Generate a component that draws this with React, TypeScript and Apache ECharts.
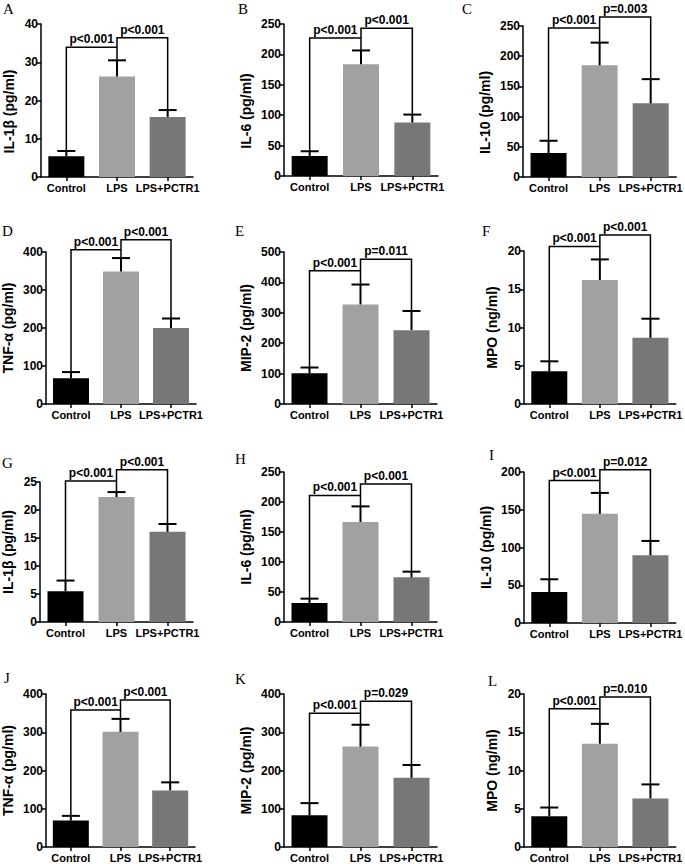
import React, { useEffect, useRef } from "react";
import * as echarts from "echarts";

const categories = ["Control", "LPS", "LPS+PCTR1"];
const panelLetters = ["A", "B", "C", "D", "E", "F", "G", "H", "I", "J", "K", "L"];
const yNames = [
  "IL-1β (pg/ml)", "IL-6 (pg/ml)", "IL-10 (pg/ml)",
  "TNF-α (pg/ml)", "MIP-2 (pg/ml)", "MPO (ng/ml)",
  "IL-1β (pg/ml)", "IL-6 (pg/ml)", "IL-10 (pg/ml)",
  "TNF-α (pg/ml)", "MIP-2 (pg/ml)", "MPO (ng/ml)",
];
const yMax = [40, 250, 250, 400, 500, 20, 25, 250, 200, 400, 400, 20];
const yInterval = [10, 50, 50, 100, 100, 5, 5, 50, 50, 100, 100, 5];

const means = [
  [5.4, 26.3, 15.7],
  [33, 184, 88],
  [39.6, 185, 122],
  [68, 349, 200],
  [101.5, 327.5, 243],
  [4.28, 16.2, 8.65],
  [5.5, 22.3, 16.1],
  [31.7, 166.7, 74.4],
  [40.9, 144.6, 89.7],
  [69, 301, 148],
  [83, 262.6, 181],
  [4.03, 13.5, 6.35],
];
const sds = [
  [1.4, 4.2, 1.8],
  [7.7, 22.5, 13],
  [20.4, 37.5, 40],
  [16, 35, 25],
  [18.5, 65.5, 63],
  [1.3, 2.7, 2.5],
  [1.9, 0.9, 1.4],
  [7.2, 26, 9.5],
  [17, 27.7, 19],
  [12.4, 34, 21],
  [31.7, 57, 33.4],
  [1.13, 2.6, 1.83],
];
// bracket heights (left: Control vs LPS, right: LPS vs LPS+PCTR1)
const bracketLeft = [33.9, 227, 246.7, 406, 438, 20.6, 25.2, 211, 188.6, 358, 350, 18.07];
const bracketRight = [36.4, 243, 265, 432, 476, 22.1, 27.2, 230, 203, 384, 381, 19.6];
const pLeft = Array(12).fill("p<0.001");
const pRight = [
  "p<0.001", "p<0.001", "p=0.003",
  "p<0.001", "p=0.011", "p<0.001",
  "p<0.001", "p<0.001", "p=0.012",
  "p<0.001", "p=0.029", "p=0.010",
];

// layout (pixels): left, top, width, height
const gridBoxes = [
  [41, 24, 152, 153], [284, 24, 154, 152], [523, 26, 157, 151],
  [43, 252, 153, 152], [284, 252, 153, 152], [524, 251, 154, 153],
  [40, 482, 153, 140], [284, 472, 153, 150], [524, 472, 154, 151],
  [42, 694, 153, 153], [284, 694, 153, 153], [524, 694, 154, 153],
];
const letterPos = [
  [3, 1], [238, 1], [462, 1],
  [2, 223], [235, 223], [482, 223],
  [2, 455], [235, 451], [489, 447],
  [4, 670], [235, 671], [488, 673],
];
const barColors = ["#000000", "#a1a1a1", "#777777"];
const SANS = "'Liberation Sans', Arial, sans-serif";

export default function App() {
  const ref = useRef<HTMLDivElement>(null);
  useEffect(() => {
    if (!ref.current) return;
    const chart = echarts.init(ref.current, null, { renderer: "svg" });
    const grids: any[] = [];
    const xAxes: any[] = [];
    const yAxes: any[] = [];
    const series: any[] = [];
    for (let i = 0; i < 12; i++) {
      const [l, t, w, h] = gridBoxes[i];
      grids.push({ left: l, top: t, width: w, height: h, containLabel: false });
      xAxes.push({
        type: "category",
        gridIndex: i,
        data: categories,
        axisLine: { show: true, lineStyle: { color: "#000", width: 1.5 } },
        axisTick: { show: true, alignWithLabel: true, length: 4, lineStyle: { color: "#000", width: 1.5 } },
        axisLabel: { interval: 0, color: "#000", fontWeight: "bold", fontSize: 11, fontFamily: SANS, margin: 5 },
      });
      const digits = String(yMax[i]).length;
      yAxes.push({
        type: "value",
        gridIndex: i,
        min: 0,
        max: yMax[i],
        interval: yInterval[i],
        name: yNames[i],
        nameLocation: "middle",
        nameRotate: 90,
        nameGap: digits >= 3 ? 31 : 25,
        nameTextStyle: {
          color: "#000",
          fontWeight: "bold",
          fontSize: 14,
          fontFamily: SANS,
          padding: i < 3 ? [0, 22, 0, 0] : 0,
        },
        splitLine: { show: false },
        axisLine: { show: true, lineStyle: { color: "#000", width: 1.5 } },
        axisTick: { show: true, length: 4, lineStyle: { color: "#000", width: 1.5 } },
        axisLabel: { color: "#000", fontWeight: "bold", fontSize: 12, fontFamily: SANS, margin: 3 },
      });
      series.push({
        type: "bar",
        xAxisIndex: i,
        yAxisIndex: i,
        barWidth: 36,
        data: means[i].map((v, j) => ({ value: v, itemStyle: { color: barColors[j] } })),
      });
      series.push({
        type: "custom",
        xAxisIndex: i,
        yAxisIndex: i,
        clip: false,
        z: 5,
        data: means[i].map((m, j) => [j, m, sds[i][j]]),
        renderItem: (params: any, api: any) => {
          const x = api.value(0);
          const m = api.value(1);
          const s = api.value(2);
          const p0 = api.coord([x, m]);
          const p1 = api.coord([x, m + s]);
          return {
            type: "group",
            children: [
              { type: "line", shape: { x1: p0[0], y1: p0[1], x2: p1[0], y2: p1[1] }, style: { stroke: "#000", lineWidth: 2 } },
              { type: "line", shape: { x1: p1[0] - 9, y1: p1[1], x2: p1[0] + 9, y2: p1[1] }, style: { stroke: "#000", lineWidth: 2 } },
            ],
          };
        },
      });
      const idx = i;
      series.push({
        type: "custom",
        xAxisIndex: i,
        yAxisIndex: i,
        clip: false,
        z: 6,
        data: [[1, 0]],
        renderItem: (params: any, api: any) => {
          const tops = means[idx].map((m, j) => m + sds[idx][j]);
          const L1 = bracketLeft[idx];
          const L2 = bracketRight[idx];
          const a0 = api.coord([0, tops[0]]);
          const a1 = api.coord([0, L1]);
          const a2 = api.coord([1, L1]);
          const b0 = api.coord([1, tops[1]]);
          const b1 = api.coord([1, L2]);
          const b2 = api.coord([2, L2]);
          const b3 = api.coord([2, tops[2]]);
          const ls = { stroke: "#000", lineWidth: 1.5, fill: null };
          const ts = (text: string) => ({
            text,
            fill: "#000",
            fontSize: 12,
            fontWeight: "bold",
            fontFamily: SANS,
            align: "center",
            verticalAlign: "bottom",
          });
          return {
            type: "group",
            children: [
              { type: "polyline", shape: { points: [a0, a1, a2] }, style: ls },
              { type: "polyline", shape: { points: [b0, b1, b2, b3] }, style: ls },
              { type: "text", x: (a1[0] + a2[0]) / 2, y: a1[1] - 2, style: ts(pLeft[idx]) },
              { type: "text", x: (b1[0] + b2[0]) / 2, y: b1[1] - 2, style: ts(pRight[idx]) },
            ],
          };
        },
      });
    }
    const graphic = panelLetters.map((letter, i) => ({
      type: "text",
      left: letterPos[i][0],
      top: letterPos[i][1],
      style: { text: letter, fill: "#000", fontSize: 15, fontFamily: "'Liberation Serif', 'Times New Roman', serif" },
    }));
    chart.setOption({
      animation: false,
      backgroundColor: "#ffffff",
      grid: grids,
      xAxis: xAxes,
      yAxis: yAxes,
      series,
      graphic,
    });
    return () => chart.dispose();
  }, []);
  return <div ref={ref} style={{ position: "absolute", left: 0, top: 0, width: 685, height: 864 }} />;
}
